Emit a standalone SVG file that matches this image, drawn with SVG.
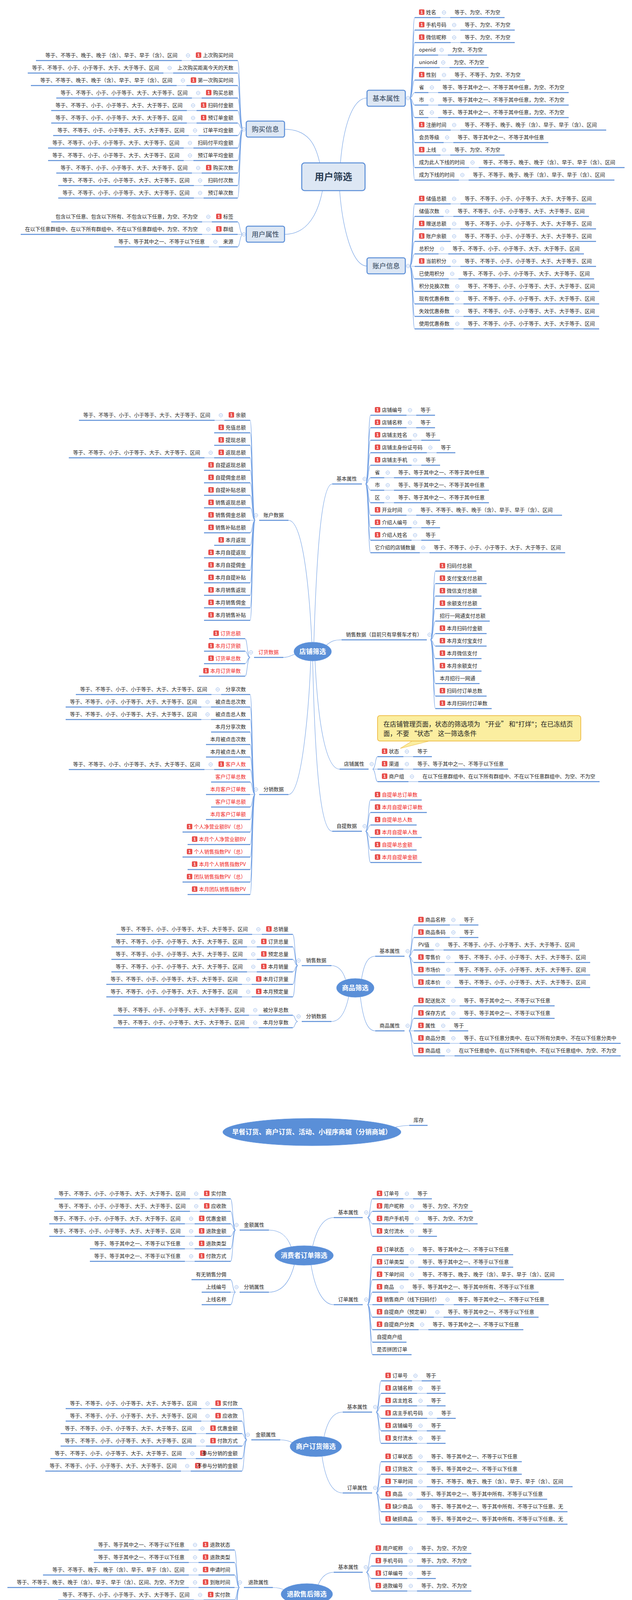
<svg xmlns="http://www.w3.org/2000/svg" width="1617" height="5203" viewBox="0 0 1617 5203">
<style>
.u{fill:none;stroke:#5b8ed7;stroke-width:2.6}
.c{fill:none;stroke:#6f9ee3;stroke-width:1.1}
text{font-family:"Noto Sans CJK SC","Noto Sans",sans-serif}
.t{font-size:13px;fill:#1f1f1f}
.e{text-anchor:end}
.r{fill:#f01e1e}
.b{font-family:"Liberation Sans",sans-serif;font-size:10.5px;font-weight:bold;fill:#fff;text-anchor:middle}
.bx{fill:#dde7f4;stroke:#5b8ed7;stroke-width:2.6}
.bt{font-size:17.5px;fill:#2c3e55;text-anchor:middle}
.ct{font-size:24px;font-weight:bold;fill:#2c3e55;text-anchor:middle}
.el{fill:#5a8fd8;stroke:#6b9be0;stroke-width:1}
.et{font-size:17px;font-weight:bold;fill:#fff;text-anchor:middle}
.er{fill:#f01e1e}
</style>
<defs>
<g id="cc"><circle r="4.5" fill="#fff" stroke="#8aaee6" stroke-width="1"/><path d="M-2.5 0H2.5" stroke="#8aaee6" stroke-width="1"/></g>
<rect id="bd" width="14" height="14" rx="2.5" fill="#e84e4a"/>
</defs>
<rect width="1617" height="5203" fill="#fff"/>

<g id="connectors">
<path class="c" d="M728 331C790 331 808 372 818 417M728 600C790 600 815 540 825 488M871 417C878 330 900 251 939 251M869 488C876 580 900 681 939 681"/>
<path class="c" d="M622 331C613 331 614 155 608 155M622 331C613 331 614 187 608 187M622 331C613 331 614 219 608 219M622 331C613 331 614 251 608 251M622 331C613 331 614 283 608 283M622 331C613 331 614 315 608 315M622 331C613 331 614 347 608 347M622 331C613 331 614 379 608 379M622 331C613 331 614 411 608 411M622 331C613 331 614 443 608 443M622 331C613 331 614 475 608 475M622 331C613 331 614 507 608 507M622 600C613 600 614 568 608 568M622 600C613 600 614 600 608 600M622 600C613 600 614 632 608 632"/>
<path class="c" d="M1048 251C1056 251 1055 45 1061 45M1048 251C1056 251 1055 77 1061 77M1048 251C1056 251 1055 109 1061 109M1048 251C1056 251 1055 141 1061 141M1048 251C1056 251 1055 173 1061 173M1048 251C1056 251 1055 205 1061 205M1048 251C1056 251 1055 237 1061 237M1048 251C1056 251 1055 269 1061 269M1048 251C1056 251 1055 301 1061 301M1048 251C1056 251 1055 333 1061 333M1048 251C1056 251 1055 365 1061 365M1048 251C1056 251 1055 397 1061 397M1048 251C1056 251 1055 429 1061 429M1048 251C1056 251 1055 461 1061 461"/>
<path class="c" d="M1048 681C1056 681 1055 522 1061 522M1048 681C1056 681 1055 554 1061 554M1048 681C1056 681 1055 586 1061 586M1048 681C1056 681 1055 618 1061 618M1048 681C1056 681 1055 650 1061 650M1048 681C1056 681 1055 682 1061 682M1048 681C1056 681 1055 714 1061 714M1048 681C1056 681 1055 746 1061 746M1048 681C1056 681 1055 778 1061 778M1048 681C1056 681 1055 810 1061 810M1048 681C1056 681 1055 842 1061 842"/>
<path class="c" d="M465 155H490M418 187H443M452 219H477M491 251H516M478 283H503M478 315H503M483 347H508M470 379H495M470 411H495M491 443H516M496 475H521M496 507H521M517 568H542M517 600H542M535 632H560M1127 45H1152M1153 77H1178M1153 109H1178M1121 141H1146M1125 173H1150M1127 205H1152M1096 237H1121M1096 269H1121M1096 301H1121M1153 333H1178M1135 365H1160M1127 397H1152M1200 429H1225M1174 461H1199M1153 522H1178M1135 554H1160M1153 586H1178M1153 618H1178M1122 650H1147M1153 682H1178M1148 714H1173M1161 746H1186M1161 778H1186M1161 810H1186M1161 842H1186"/>
<path class="c" d="M738 1332C772 1332 790 1480 798 1645M725 1683C738 1683 745 1678 754 1675M738 2034C772 2034 790 1820 795 1692M803 1645C810 1420 822 1239 850 1239M835 1652C848 1640 858 1638 874 1638M806 1692C814 1860 835 1969 869 1969M800 1692C806 1960 820 2128 850 2128"/>
<path class="c" d="M653 1332C645 1332 646 1076 640 1076M653 1332C645 1332 646 1108 640 1108M653 1332C645 1332 646 1140 640 1140M653 1332C645 1332 646 1172 640 1172M653 1332C645 1332 646 1204 640 1204M653 1332C645 1332 646 1236 640 1236M653 1332C645 1332 646 1268 640 1268M653 1332C645 1332 646 1300 640 1300M653 1332C645 1332 646 1332 640 1332M653 1332C645 1332 646 1364 640 1364M653 1332C645 1332 646 1396 640 1396M653 1332C645 1332 646 1428 640 1428M653 1332C645 1332 646 1460 640 1460M653 1332C645 1332 646 1492 640 1492M653 1332C645 1332 646 1524 640 1524M653 1332C645 1332 646 1556 640 1556M653 1332C645 1332 646 1588 640 1588"/>
<path class="c" d="M640 1683C632 1683 633 1635 627 1635M640 1683C632 1683 633 1667 627 1667M640 1683C632 1683 633 1699 627 1699M640 1683C632 1683 633 1731 627 1731"/>
<path class="c" d="M653 2034C645 2034 646 1778 640 1778M653 2034C645 2034 646 1810 640 1810M653 2034C645 2034 646 1842 640 1842M653 2034C645 2034 646 1874 640 1874M653 2034C645 2034 646 1906 640 1906M653 2034C645 2034 646 1938 640 1938M653 2034C645 2034 646 1970 640 1970M653 2034C645 2034 646 2002 640 2002M653 2034C645 2034 646 2034 640 2034M653 2034C645 2034 646 2066 640 2066M653 2034C645 2034 646 2098 640 2098M653 2034C645 2034 646 2130 640 2130M653 2034C645 2034 646 2162 640 2162M653 2034C645 2034 646 2194 640 2194M653 2034C645 2034 646 2226 640 2226M653 2034C645 2034 646 2258 640 2258M653 2034C645 2034 646 2290 640 2290"/>
<path class="c" d="M935 1239C943 1239 942 1063 948 1063M935 1239C943 1239 942 1095 948 1095M935 1239C943 1239 942 1127 948 1127M935 1239C943 1239 942 1159 948 1159M935 1239C943 1239 942 1191 948 1191M935 1239C943 1239 942 1223 948 1223M935 1239C943 1239 942 1255 948 1255M935 1239C943 1239 942 1287 948 1287M935 1239C943 1239 942 1319 948 1319M935 1239C943 1239 942 1351 948 1351M935 1239C943 1239 942 1383 948 1383M935 1239C943 1239 942 1415 948 1415"/>
<path class="c" d="M1101 1638C1109 1638 1108 1462 1114 1462M1101 1638C1109 1638 1108 1494 1114 1494M1101 1638C1109 1638 1108 1526 1114 1526M1101 1638C1109 1638 1108 1558 1114 1558M1101 1638C1109 1638 1108 1590 1114 1590M1101 1638C1109 1638 1108 1622 1114 1622M1101 1638C1109 1638 1108 1654 1114 1654M1101 1638C1109 1638 1108 1686 1114 1686M1101 1638C1109 1638 1108 1718 1114 1718M1101 1638C1109 1638 1108 1750 1114 1750M1101 1638C1109 1638 1108 1782 1114 1782M1101 1638C1109 1638 1108 1814 1114 1814"/>
<path class="c" d="M953 1969C961 1969 960 1937 966 1937M953 1969C961 1969 960 1969 966 1969M953 1969C961 1969 960 2001 966 2001M935 2128C943 2128 942 2048 948 2048M935 2128C943 2128 942 2080 948 2080M935 2128C943 2128 942 2112 948 2112M935 2128C943 2128 942 2144 948 2144M935 2128C943 2128 942 2176 948 2176M935 2128C943 2128 942 2208 948 2208"/>
<path class="c" d="M549 1076H574M523 1172H548M541 1778H566M515 1810H540M515 1842H540M523 1970H548M1040 1063H1065M1040 1095H1065M1053 1127H1078M1092 1159H1117M1053 1191H1078M983 1223H1008M983 1255H1008M983 1287H1008M1040 1319H1065M1053 1351H1078M1053 1383H1078M1074 1415H1099M1032 1937H1057M1032 1969H1057M1045 2001H1070"/>
<path class="c" d="M848 2472C868 2472 878 2488 884 2507M848 2615C870 2615 884 2590 892 2552M925 2506C931 2470 940 2448 960 2448M922 2552C929 2610 940 2639 960 2639"/>
<path class="c" d="M762 2472C754 2472 755 2392 749 2392M762 2472C754 2472 755 2424 749 2424M762 2472C754 2472 755 2456 749 2456M762 2472C754 2472 755 2488 749 2488M762 2472C754 2472 755 2520 749 2520M762 2472C754 2472 755 2552 749 2552M762 2615C754 2615 755 2599 749 2599M762 2615C754 2615 755 2631 749 2631M1046 2448C1054 2448 1053 2368 1059 2368M1046 2448C1054 2448 1053 2400 1059 2400M1046 2448C1054 2448 1053 2432 1059 2432M1046 2448C1054 2448 1053 2464 1059 2464M1046 2448C1054 2448 1053 2496 1059 2496M1046 2448C1054 2448 1053 2528 1059 2528M1046 2639C1054 2639 1053 2575 1059 2575M1046 2639C1054 2639 1053 2607 1059 2607M1046 2639C1054 2639 1053 2639 1059 2639M1046 2639C1054 2639 1053 2671 1059 2671M1046 2639C1054 2639 1053 2703 1059 2703"/>
<path class="c" d="M645 2392H670M632 2424H657M632 2456H657M632 2488H657M619 2520H644M619 2552H644M637 2599H662M637 2631H662M1151 2368H1176M1151 2400H1176M1110 2432H1135M1138 2464H1163M1138 2496H1163M1138 2528H1163M1151 2575H1176M1151 2607H1176M1125 2639H1150M1151 2671H1176M1138 2703H1163"/>
<path class="c" d="M1010 2886C1025 2882 1033 2881 1047 2881"/>
<path class="c" d="M688 3149C718 3149 735 3165 745 3192M688 3308C722 3308 742 3280 753 3238M800 3190C810 3148 826 3117 854 3117M796 3239C806 3300 826 3340 854 3340"/>
<path class="c" d="M603 3149C595 3149 596 3069 590 3069M603 3149C595 3149 596 3101 590 3101M603 3149C595 3149 596 3133 590 3133M603 3149C595 3149 596 3165 590 3165M603 3149C595 3149 596 3197 590 3197M603 3149C595 3149 596 3229 590 3229M603 3308C595 3308 596 3276 590 3276M603 3308C595 3308 596 3308 590 3308M603 3308C595 3308 596 3340 590 3340M940 3117C948 3117 947 3069 953 3069M940 3117C948 3117 947 3101 953 3101M940 3117C948 3117 947 3133 953 3133M940 3117C948 3117 947 3165 953 3165M940 3340C948 3340 947 3212 953 3212M940 3340C948 3340 947 3244 953 3244M940 3340C948 3340 947 3276 953 3276M940 3340C948 3340 947 3308 953 3308M940 3340C948 3340 947 3340 953 3340M940 3340C948 3340 947 3372 953 3372M940 3340C948 3340 947 3404 953 3404M940 3340C948 3340 947 3436 953 3436M940 3340C948 3340 947 3468 953 3468"/>
<path class="c" d="M486 3069H511M486 3101H511M473 3133H498M473 3165H498M473 3197H498M473 3229H498M1032 3069H1057M1045 3101H1070M1058 3133H1083M1045 3165H1070M1045 3212H1070M1045 3244H1070M1045 3276H1070M1019 3308H1044M1136 3340H1161M1110 3372H1135M1071 3404H1096"/>
<path class="c" d="M717 3686C730 3686 738 3688 748 3693M829 3678C838 3638 852 3615 877 3615M824 3729C833 3790 850 3822 877 3822"/>
<path class="c" d="M632 3686C624 3686 625 3606 619 3606M632 3686C624 3686 625 3638 619 3638M632 3686C624 3686 625 3670 619 3670M632 3686C624 3686 625 3702 619 3702M632 3686C624 3686 625 3734 619 3734M632 3686C624 3686 625 3766 619 3766M962 3615C970 3615 969 3535 975 3535M962 3615C970 3615 969 3567 975 3567M962 3615C970 3615 969 3599 975 3599M962 3615C970 3615 969 3631 975 3631M962 3615C970 3615 969 3663 975 3663M962 3615C970 3615 969 3695 975 3695M962 3822C970 3822 969 3742 975 3742M962 3822C970 3822 969 3774 975 3774M962 3822C970 3822 969 3806 975 3806M962 3822C970 3822 969 3838 975 3838M962 3822C970 3822 969 3870 975 3870M962 3822C970 3822 969 3902 975 3902"/>
<path class="c" d="M515 3606H540M515 3638H540M502 3670H527M502 3702H527M476 3734H501M463 3766H488M1054 3535H1079M1067 3567H1092M1067 3599H1092M1093 3631H1118M1067 3663H1092M1067 3695H1092M1067 3742H1092M1067 3774H1092M1067 3806H1092M1041 3838H1066M1067 3870H1092M1067 3902H1092"/>
<path class="c" d="M698 4064C710 4064 718 4066 727 4070M814 4057C822 4038 835 4025 854 4025M809 4107C815 4146 830 4168 854 4168"/>
<path class="c" d="M613 4064C605 4064 606 3968 600 3968M613 4064C605 4064 606 4000 600 4000M613 4064C605 4064 606 4032 600 4032M613 4064C605 4064 606 4064 600 4064M613 4064C605 4064 606 4096 600 4096M613 4064C605 4064 606 4128 600 4128M613 4064C605 4064 606 4160 600 4160M937 4025C945 4025 944 3977 950 3977M937 4025C945 4025 944 4009 950 4009M937 4025C945 4025 944 4041 950 4041M937 4025C945 4025 944 4073 950 4073M937 4168C945 4168 944 4120 950 4120M937 4168C945 4168 944 4152 950 4152M937 4168C945 4168 944 4184 950 4184M937 4168C945 4168 944 4216 950 4216"/>
<path class="c" d="M483 3968H508M483 4000H508M483 4032H508M483 4064H508M496 4096H521M496 4128H521M483 4160H508M1042 3977H1067M1042 4009H1067M1042 4041H1067M1042 4073H1067M1042 4120H1067M1024 4152H1049M1016 4184H1041M1042 4216H1067"/>
<path class="c" d="M806 4445C815 4430 826 4420 842 4420M800 4492C808 4525 822 4546 841 4546M927 4420C935 4420 934 4339 940 4339M927 4420C935 4420 934 4371 940 4371M927 4420C935 4420 934 4403 940 4403M927 4420C935 4420 934 4435 940 4435M927 4420C935 4420 934 4467 940 4467M927 4420C935 4420 934 4499 940 4499"/>
<path class="c" d="M744 4682C758 4682 768 4690 775 4700M744 4794C766 4794 780 4775 787 4748M852 4701C863 4694 873 4690 889 4690M842 4747C852 4773 868 4785 889 4785M684 4682C676 4682 677 4634 671 4634M684 4682C676 4682 677 4666 671 4666M684 4682C676 4682 677 4698 671 4698M684 4682C676 4682 677 4730 671 4730M672 4794C664 4794 665 4778 659 4778M672 4794C664 4794 665 4810 659 4810M973 4690C981 4690 980 4658 986 4658M973 4690C981 4690 980 4690 986 4690M973 4690C981 4690 980 4722 986 4722M973 4785C981 4785 980 4769 986 4769M973 4785C981 4785 980 4801 986 4801"/>
<path class="c" d="M688 5052C702 5052 712 5054 720 5061M688 5130C712 5130 728 5118 738 5099M806 5052C815 5036 826 5026 841 5026M795 5101C804 5130 820 5153 841 5153M586 5052C578 5052 579 5036 573 5036M586 5052C578 5052 579 5068 573 5068M586 5130C578 5130 579 5114 573 5114M586 5130C578 5130 579 5146 573 5146M900 5026C908 5026 907 4978 913 4978M900 5026C908 5026 907 5010 913 5010M900 5026C908 5026 907 5042 913 5042M900 5026C908 5026 907 5074 913 5074M927 5153C935 5153 934 5121 940 5121M927 5153C935 5153 934 5153 940 5153M927 5153C935 5153 934 5185 940 5185"/>
</g>

<!-- Section 1: 用户筛选 -->
<g id="root1"><rect class="bx" x="772" y="417" width="162" height="71" rx="7"/><text class="ct" x="853" y="461">用户筛选</text></g>
<g id="buy"><rect class="bx" x="630" y="310" width="98" height="41" rx="5"/><text class="bt" x="679" y="337">购买信息</text><use href="#cc" x="624" y="331"/></g>
<g id="uattr"><rect class="bx" x="630" y="579" width="98" height="41" rx="5"/><text class="bt" x="679" y="606">用户属性</text><use href="#cc" x="624" y="600"/></g>
<g id="basic1"><rect class="bx" x="939" y="231" width="98" height="41" rx="5"/><text class="bt" x="988" y="258">基本属性</text><use href="#cc" x="1044" y="251"/></g>
<g id="acct1"><rect class="bx" x="939" y="660" width="98" height="41" rx="5"/><text class="bt" x="988" y="687">账户信息</text><use href="#cc" x="1044" y="681"/></g>

<g id="a1"><path class="u" d="M490 155H608"/><use href="#cc" x="481" y="142"/><use href="#bd" x="501" y="134"/><text class="b" x="508" y="145">1</text><text class="t e" x="597" y="146">上次购买时间</text></g>
<g id="a1v"><path class="u" d="M92 155H465"/><text class="t e" x="454" y="146">等于、不等于、晚于、晚于（含）、早于、早于（含）、区间</text></g>
<g id="a2"><path class="u" d="M443 187H608"/><use href="#cc" x="434" y="174"/><text class="t e" x="597" y="178">上次购买距离今天的天数</text></g>
<g id="a2v"><path class="u" d="M71 187H418"/><text class="t e" x="407" y="178">等于、不等于、小于、小于等于、大于、大于等于、区间</text></g>
<g id="a3"><path class="u" d="M477 219H608"/><use href="#cc" x="468" y="206"/><use href="#bd" x="488" y="198"/><text class="b" x="495" y="209">1</text><text class="t e" x="597" y="210">第一次购买时间</text></g>
<g id="a3v"><path class="u" d="M79 219H452"/><text class="t e" x="441" y="210">等于、不等于、晚于、晚于（含）、早于、早于（含）、区间</text></g>
<g id="a4"><path class="u" d="M516 251H608"/><use href="#cc" x="507" y="238"/><use href="#bd" x="527" y="230"/><text class="b" x="534" y="241">1</text><text class="t e" x="597" y="242">购买总额</text></g>
<g id="a4v"><path class="u" d="M144 251H491"/><text class="t e" x="480" y="242">等于、不等于、小于、小于等于、大于、大于等于、区间</text></g>
<g id="a5"><path class="u" d="M503 283H608"/><use href="#cc" x="494" y="270"/><use href="#bd" x="514" y="262"/><text class="b" x="521" y="273">1</text><text class="t e" x="597" y="274">扫码付金额</text></g>
<g id="a5v"><path class="u" d="M131 283H478"/><text class="t e" x="467" y="274">等于、不等于、小于、小于等于、大于、大于等于、区间</text></g>
<g id="a6"><path class="u" d="M503 315H608"/><use href="#cc" x="494" y="302"/><use href="#bd" x="514" y="294"/><text class="b" x="521" y="305">1</text><text class="t e" x="597" y="306">预订单金额</text></g>
<g id="a6v"><path class="u" d="M131 315H478"/><text class="t e" x="467" y="306">等于、不等于、小于、小于等于、大于、大于等于、区间</text></g>
<g id="a7"><path class="u" d="M508 347H608"/><use href="#cc" x="499" y="334"/><text class="t e" x="597" y="338">订单平均金额</text></g>
<g id="a7v"><path class="u" d="M136 347H483"/><text class="t e" x="472" y="338">等于、不等于、小于、小于等于、大于、大于等于、区间</text></g>
<g id="a8"><path class="u" d="M495 379H608"/><use href="#cc" x="486" y="366"/><text class="t e" x="597" y="370">扫码付平均金额</text></g>
<g id="a8v"><path class="u" d="M123 379H470"/><text class="t e" x="459" y="370">等于、不等于、小于、小于等于、大于、大于等于、区间</text></g>
<g id="a9"><path class="u" d="M495 411H608"/><use href="#cc" x="486" y="398"/><text class="t e" x="597" y="402">预订单平均金额</text></g>
<g id="a9v"><path class="u" d="M123 411H470"/><text class="t e" x="459" y="402">等于、不等于、小于、小于等于、大于、大于等于、区间</text></g>
<g id="a10"><path class="u" d="M516 443H608"/><use href="#cc" x="507" y="430"/><use href="#bd" x="527" y="422"/><text class="b" x="534" y="433">1</text><text class="t e" x="597" y="434">购买次数</text></g>
<g id="a10v"><path class="u" d="M144 443H491"/><text class="t e" x="480" y="434">等于、不等于、小于、小于等于、大于、大于等于、区间</text></g>
<g id="a11"><path class="u" d="M521 475H608"/><use href="#cc" x="512" y="462"/><text class="t e" x="597" y="466">扫码付次数</text></g>
<g id="a11v"><path class="u" d="M149 475H496"/><text class="t e" x="485" y="466">等于、不等于、小于、小于等于、大于、大于等于、区间</text></g>
<g id="a12"><path class="u" d="M521 507H608"/><use href="#cc" x="512" y="494"/><text class="t e" x="597" y="498">预订单次数</text></g>
<g id="a12v"><path class="u" d="M149 507H496"/><text class="t e" x="485" y="498">等于、不等于、小于、小于等于、大于、大于等于、区间</text></g>
<g id="b1"><path class="u" d="M542 568H608"/><use href="#cc" x="533" y="555"/><use href="#bd" x="553" y="547"/><text class="b" x="560" y="558">1</text><text class="t e" x="597" y="559">标签</text></g>
<g id="b1v"><path class="u" d="M131 568H517"/><text class="t e" x="506" y="559">包含以下任意、包含以下所有、不包含以下任意，为空、不为空</text></g>
<g id="b2"><path class="u" d="M542 600H608"/><use href="#cc" x="533" y="587"/><use href="#bd" x="553" y="579"/><text class="b" x="560" y="590">1</text><text class="t e" x="597" y="591">群组</text></g>
<g id="b2v"><path class="u" d="M53 600H517"/><text class="t e" x="506" y="591">在以下任意群组中、在以下所有群组中、不在以下任意群组中、为空、不为空</text></g>
<g id="b3"><path class="u" d="M560 632H608"/><use href="#cc" x="551" y="619"/><text class="t e" x="597" y="623">来源</text></g>
<g id="b3v"><path class="u" d="M292 632H535"/><text class="t e" x="524" y="623">等于、等于其中之一、不等于以下任意</text></g>

<g id="c1"><path class="u" d="M1061 45H1127"/><use href="#cc" x="1136" y="32"/><use href="#bd" x="1072" y="24"/><text class="b" x="1079" y="35">1</text><text class="t" x="1090" y="36">姓名</text></g>
<g id="c1v"><path class="u" d="M1152 45H1291"/><text class="t" x="1163" y="36">等于、为空、不为空</text></g>
<g id="c2"><path class="u" d="M1061 77H1153"/><use href="#cc" x="1162" y="64"/><use href="#bd" x="1072" y="56"/><text class="b" x="1079" y="67">1</text><text class="t" x="1090" y="68">手机号码</text></g>
<g id="c2v"><path class="u" d="M1178 77H1317"/><text class="t" x="1189" y="68">等于、为空、不为空</text></g>
<g id="c3"><path class="u" d="M1061 109H1153"/><use href="#cc" x="1162" y="96"/><use href="#bd" x="1072" y="88"/><text class="b" x="1079" y="99">1</text><text class="t" x="1090" y="100">微信昵称</text></g>
<g id="c3v"><path class="u" d="M1178 109H1317"/><text class="t" x="1189" y="100">等于、为空、不为空</text></g>
<g id="c4"><path class="u" d="M1061 141H1121"/><use href="#cc" x="1130" y="128"/><text class="t" x="1072" y="132">openid</text></g>
<g id="c4v"><path class="u" d="M1146 141H1246"/><text class="t" x="1157" y="132">为空、不为空</text></g>
<g id="c5"><path class="u" d="M1061 173H1125"/><use href="#cc" x="1134" y="160"/><text class="t" x="1072" y="164">unionid</text></g>
<g id="c5v"><path class="u" d="M1150 173H1250"/><text class="t" x="1161" y="164">为空、不为空</text></g>
<g id="c6"><path class="u" d="M1061 205H1127"/><use href="#cc" x="1136" y="192"/><use href="#bd" x="1072" y="184"/><text class="b" x="1079" y="195">1</text><text class="t" x="1090" y="196">性别</text></g>
<g id="c6v"><path class="u" d="M1152 205H1343"/><text class="t" x="1163" y="196">等于、不等于、为空、不为空</text></g>
<g id="c7"><path class="u" d="M1061 237H1096"/><use href="#cc" x="1105" y="224"/><text class="t" x="1072" y="228">省</text></g>
<g id="c7v"><path class="u" d="M1121 237H1455"/><text class="t" x="1132" y="228">等于、等于其中之一、不等于其中任意，为空、不为空</text></g>
<g id="c8"><path class="u" d="M1061 269H1096"/><use href="#cc" x="1105" y="256"/><text class="t" x="1072" y="260">市</text></g>
<g id="c8v"><path class="u" d="M1121 269H1455"/><text class="t" x="1132" y="260">等于、等于其中之一、不等于其中任意，为空、不为空</text></g>
<g id="c9"><path class="u" d="M1061 301H1096"/><use href="#cc" x="1105" y="288"/><text class="t" x="1072" y="292">区</text></g>
<g id="c9v"><path class="u" d="M1121 301H1455"/><text class="t" x="1132" y="292">等于、等于其中之一、不等于其中任意，为空、不为空</text></g>
<g id="c10"><path class="u" d="M1061 333H1153"/><use href="#cc" x="1162" y="320"/><use href="#bd" x="1072" y="312"/><text class="b" x="1079" y="323">1</text><text class="t" x="1090" y="324">注册时间</text></g>
<g id="c10v"><path class="u" d="M1178 333H1551"/><text class="t" x="1189" y="324">等于、不等于、晚于、晚于（含）、早于、早于（含）、区间</text></g>
<g id="c11"><path class="u" d="M1061 365H1135"/><use href="#cc" x="1144" y="352"/><text class="t" x="1072" y="356">会员等级</text></g>
<g id="c11v"><path class="u" d="M1160 365H1403"/><text class="t" x="1171" y="356">等于、等于其中之一、不等于其中任意</text></g>
<g id="c12"><path class="u" d="M1061 397H1127"/><use href="#cc" x="1136" y="384"/><use href="#bd" x="1072" y="376"/><text class="b" x="1079" y="387">1</text><text class="t" x="1090" y="388">上线</text></g>
<g id="c12v"><path class="u" d="M1152 397H1291"/><text class="t" x="1163" y="388">等于、为空、不为空</text></g>
<g id="c13"><path class="u" d="M1061 429H1200"/><use href="#cc" x="1209" y="416"/><text class="t" x="1072" y="420">成为此人下线的时间</text></g>
<g id="c13v"><path class="u" d="M1225 429H1598"/><text class="t" x="1236" y="420">等于、不等于、晚于、晚于（含）、早于、早于（含）、区间</text></g>
<g id="c14"><path class="u" d="M1061 461H1174"/><use href="#cc" x="1183" y="448"/><text class="t" x="1072" y="452">成为下线的时间</text></g>
<g id="c14v"><path class="u" d="M1199 461H1572"/><text class="t" x="1210" y="452">等于、不等于、晚于、晚于（含）、早于、早于（含）、区间</text></g>

<g id="d1"><path class="u" d="M1061 522H1153"/><use href="#cc" x="1162" y="509"/><use href="#bd" x="1072" y="501"/><text class="b" x="1079" y="512">1</text><text class="t" x="1090" y="513">储值总额</text></g>
<g id="d1v"><path class="u" d="M1178 522H1525"/><text class="t" x="1189" y="513">等于、不等于、小于、小于等于、大于、大于等于、区间</text></g>
<g id="d2"><path class="u" d="M1061 554H1135"/><use href="#cc" x="1144" y="541"/><text class="t" x="1072" y="545">储值次数</text></g>
<g id="d2v"><path class="u" d="M1160 554H1507"/><text class="t" x="1171" y="545">等于、不等于、小于、小于等于、大于、大于等于、区间</text></g>
<g id="d3"><path class="u" d="M1061 586H1153"/><use href="#cc" x="1162" y="573"/><use href="#bd" x="1072" y="565"/><text class="b" x="1079" y="576">1</text><text class="t" x="1090" y="577">赠送总额</text></g>
<g id="d3v"><path class="u" d="M1178 586H1525"/><text class="t" x="1189" y="577">等于、不等于、小于、小于等于、大于、大于等于、区间</text></g>
<g id="d4"><path class="u" d="M1061 618H1153"/><use href="#cc" x="1162" y="605"/><use href="#bd" x="1072" y="597"/><text class="b" x="1079" y="608">1</text><text class="t" x="1090" y="609">账户余额</text></g>
<g id="d4v"><path class="u" d="M1178 618H1525"/><text class="t" x="1189" y="609">等于、不等于、小于、小于等于、大于、大于等于、区间</text></g>
<g id="d5"><path class="u" d="M1061 650H1122"/><use href="#cc" x="1131" y="637"/><text class="t" x="1072" y="641">总积分</text></g>
<g id="d5v"><path class="u" d="M1147 650H1494"/><text class="t" x="1158" y="641">等于、不等于、小于、小于等于、大于、大于等于、区间</text></g>
<g id="d6"><path class="u" d="M1061 682H1153"/><use href="#cc" x="1162" y="669"/><use href="#bd" x="1072" y="661"/><text class="b" x="1079" y="672">1</text><text class="t" x="1090" y="673">当前积分</text></g>
<g id="d6v"><path class="u" d="M1178 682H1525"/><text class="t" x="1189" y="673">等于、不等于、小于、小于等于、大于、大于等于、区间</text></g>
<g id="d7"><path class="u" d="M1061 714H1148"/><use href="#cc" x="1157" y="701"/><text class="t" x="1072" y="705">已使用积分</text></g>
<g id="d7v"><path class="u" d="M1173 714H1520"/><text class="t" x="1184" y="705">等于、不等于、小于、小于等于、大于、大于等于、区间</text></g>
<g id="d8"><path class="u" d="M1061 746H1161"/><use href="#cc" x="1170" y="733"/><text class="t" x="1072" y="737">积分兑换次数</text></g>
<g id="d8v"><path class="u" d="M1186 746H1533"/><text class="t" x="1197" y="737">等于、不等于、小于、小于等于、大于、大于等于、区间</text></g>
<g id="d9"><path class="u" d="M1061 778H1161"/><use href="#cc" x="1170" y="765"/><text class="t" x="1072" y="769">现有优惠券数</text></g>
<g id="d9v"><path class="u" d="M1186 778H1533"/><text class="t" x="1197" y="769">等于、不等于、小于、小于等于、大于、大于等于、区间</text></g>
<g id="d10"><path class="u" d="M1061 810H1161"/><use href="#cc" x="1170" y="797"/><text class="t" x="1072" y="801">失效优惠券数</text></g>
<g id="d10v"><path class="u" d="M1186 810H1533"/><text class="t" x="1197" y="801">等于、不等于、小于、小于等于、大于、大于等于、区间</text></g>
<g id="d11"><path class="u" d="M1061 842H1161"/><use href="#cc" x="1170" y="829"/><text class="t" x="1072" y="833">使用优惠券数</text></g>
<g id="d11v"><path class="u" d="M1186 842H1533"/><text class="t" x="1197" y="833">等于、不等于、小于、小于等于、大于、大于等于、区间</text></g>

<!-- Section 2: 店铺筛选 -->
<g id="root2"><ellipse class="el" cx="800" cy="1668" rx="48" ry="24"/><text class="et" x="800" y="1674">店铺筛选</text></g>
<g id="s2a"><path class="u" d="M663 1332H738"/><use href="#cc" x="655" y="1319"/><text class="t" x="674" y="1323">账户数据</text></g>
<g id="s2b"><path class="u" d="M650 1683H725"/><use href="#cc" x="642" y="1670"/><text class="t r" x="661" y="1674">订货数据</text></g>
<g id="s2c"><path class="u" d="M663 2034H738"/><use href="#cc" x="655" y="2021"/><text class="t" x="674" y="2025">分销数据</text></g>
<g id="s2d"><path class="u" d="M850 1239H926"/><use href="#cc" x="933" y="1226"/><text class="t" x="861" y="1230">基本属性</text></g>
<g id="s2e"><path class="u" d="M874 1638H1092"/><use href="#cc" x="1099" y="1625"/><text class="t" x="885" y="1629">销售数据（目前只有早餐车才有）</text></g>
<g id="s2f"><path class="u" d="M869 1969H943"/><use href="#cc" x="951" y="1956"/><text class="t" x="880" y="1960">店铺属性</text></g>
<g id="s2g"><path class="u" d="M850 2128H926"/><use href="#cc" x="933" y="2115"/><text class="t" x="861" y="2119">自提数据</text></g>

<g id="e1"><path class="u" d="M574 1076H640"/><use href="#cc" x="565" y="1063"/><use href="#bd" x="585" y="1055"/><text class="b" x="592" y="1066">1</text><text class="t e" x="629" y="1067">余额</text></g>
<g id="e1v"><path class="u" d="M202 1076H549"/><text class="t e" x="538" y="1067">等于、不等于、小于、小于等于、大于、大于等于、区间</text></g>
<g id="e2"><path class="u" d="M548 1108H640"/><use href="#bd" x="559" y="1087"/><text class="b" x="566" y="1098">1</text><text class="t e" x="629" y="1099">充值总额</text></g>
<g id="e3"><path class="u" d="M548 1140H640"/><use href="#bd" x="559" y="1119"/><text class="b" x="566" y="1130">1</text><text class="t e" x="629" y="1131">提现总额</text></g>
<g id="e4"><path class="u" d="M548 1172H640"/><use href="#cc" x="539" y="1159"/><use href="#bd" x="559" y="1151"/><text class="b" x="566" y="1162">1</text><text class="t e" x="629" y="1163">返现总额</text></g>
<g id="e4v"><path class="u" d="M176 1172H523"/><text class="t e" x="512" y="1163">等于、不等于、小于、小于等于、大于、大于等于、区间</text></g>
<g id="e5"><path class="u" d="M522 1204H640"/><use href="#bd" x="533" y="1183"/><text class="b" x="540" y="1194">1</text><text class="t e" x="629" y="1195">自提返现总额</text></g>
<g id="e6"><path class="u" d="M522 1236H640"/><use href="#bd" x="533" y="1215"/><text class="b" x="540" y="1226">1</text><text class="t e" x="629" y="1227">自提佣金总额</text></g>
<g id="e7"><path class="u" d="M522 1268H640"/><use href="#bd" x="533" y="1247"/><text class="b" x="540" y="1258">1</text><text class="t e" x="629" y="1259">自提补贴总额</text></g>
<g id="e8"><path class="u" d="M522 1300H640"/><use href="#bd" x="533" y="1279"/><text class="b" x="540" y="1290">1</text><text class="t e" x="629" y="1291">销售返现总额</text></g>
<g id="e9"><path class="u" d="M522 1332H640"/><use href="#bd" x="533" y="1311"/><text class="b" x="540" y="1322">1</text><text class="t e" x="629" y="1323">销售佣金总额</text></g>
<g id="e10"><path class="u" d="M522 1364H640"/><use href="#bd" x="533" y="1343"/><text class="b" x="540" y="1354">1</text><text class="t e" x="629" y="1355">销售补贴总额</text></g>
<g id="e11"><path class="u" d="M548 1396H640"/><use href="#bd" x="559" y="1375"/><text class="b" x="566" y="1386">1</text><text class="t e" x="629" y="1387">本月返现</text></g>
<g id="e12"><path class="u" d="M522 1428H640"/><use href="#bd" x="533" y="1407"/><text class="b" x="540" y="1418">1</text><text class="t e" x="629" y="1419">本月自提返现</text></g>
<g id="e13"><path class="u" d="M522 1460H640"/><use href="#bd" x="533" y="1439"/><text class="b" x="540" y="1450">1</text><text class="t e" x="629" y="1451">本月自提佣金</text></g>
<g id="e14"><path class="u" d="M522 1492H640"/><use href="#bd" x="533" y="1471"/><text class="b" x="540" y="1482">1</text><text class="t e" x="629" y="1483">本月自提补贴</text></g>
<g id="e15"><path class="u" d="M522 1524H640"/><use href="#bd" x="533" y="1503"/><text class="b" x="540" y="1514">1</text><text class="t e" x="629" y="1515">本月销售返现</text></g>
<g id="e16"><path class="u" d="M522 1556H640"/><use href="#bd" x="533" y="1535"/><text class="b" x="540" y="1546">1</text><text class="t e" x="629" y="1547">本月销售佣金</text></g>
<g id="e17"><path class="u" d="M522 1588H640"/><use href="#bd" x="533" y="1567"/><text class="b" x="540" y="1578">1</text><text class="t e" x="629" y="1579">本月销售补贴</text></g>

<g id="f1"><path class="u" d="M535 1635H627"/><use href="#bd" x="546" y="1614"/><text class="b" x="553" y="1625">1</text><text class="t e r" x="616" y="1626">订货总额</text></g>
<g id="f2"><path class="u" d="M522 1667H627"/><use href="#bd" x="533" y="1646"/><text class="b" x="540" y="1657">1</text><text class="t e r" x="616" y="1658">本月订货额</text></g>
<g id="f3"><path class="u" d="M522 1699H627"/><use href="#bd" x="533" y="1678"/><text class="b" x="540" y="1689">1</text><text class="t e r" x="616" y="1690">订货单总数</text></g>
<g id="f4"><path class="u" d="M509 1731H627"/><use href="#bd" x="520" y="1710"/><text class="b" x="527" y="1721">1</text><text class="t e r" x="616" y="1722">本月订货单数</text></g>

<g id="g1"><path class="u" d="M566 1778H640"/><use href="#cc" x="557" y="1765"/><text class="t e" x="629" y="1769">分享次数</text></g>
<g id="g1v"><path class="u" d="M194 1778H541"/><text class="t e" x="530" y="1769">等于、不等于、小于、小于等于、大于、大于等于、区间</text></g>
<g id="g2"><path class="u" d="M540 1810H640"/><use href="#cc" x="531" y="1797"/><text class="t e" x="629" y="1801">被点击总次数</text></g>
<g id="g2v"><path class="u" d="M168 1810H515"/><text class="t e" x="504" y="1801">等于、不等于、小于、小于等于、大于、大于等于、区间</text></g>
<g id="g3"><path class="u" d="M540 1842H640"/><use href="#cc" x="531" y="1829"/><text class="t e" x="629" y="1833">被点击总人数</text></g>
<g id="g3v"><path class="u" d="M168 1842H515"/><text class="t e" x="504" y="1833">等于、不等于、小于、小于等于、大于、大于等于、区间</text></g>
<g id="g4"><path class="u" d="M540 1874H640"/><text class="t e" x="629" y="1865">本月分享次数</text></g>
<g id="g5"><path class="u" d="M527 1906H640"/><text class="t e" x="629" y="1897">本月被点击次数</text></g>
<g id="g6"><path class="u" d="M527 1938H640"/><text class="t e" x="629" y="1929">本月被点击人数</text></g>
<g id="g7"><path class="u" d="M548 1970H640"/><use href="#cc" x="539" y="1957"/><use href="#bd" x="559" y="1949"/><text class="b" x="566" y="1960">1</text><text class="t e r" x="629" y="1961">客户人数</text></g>
<g id="g7v"><path class="u" d="M176 1970H523"/><text class="t e" x="512" y="1961">等于、不等于、小于、小于等于、大于、大于等于、区间</text></g>
<g id="g8"><path class="u" d="M540 2002H640"/><text class="t e r" x="629" y="1993">客户订单总数</text></g>
<g id="g9"><path class="u" d="M527 2034H640"/><text class="t e r" x="629" y="2025">本月客户订单数</text></g>
<g id="g10"><path class="u" d="M540 2066H640"/><text class="t e r" x="629" y="2057">客户订单总额</text></g>
<g id="g11"><path class="u" d="M527 2098H640"/><text class="t e r" x="629" y="2089">本月客户订单额</text></g>
<g id="g12"><path class="u" d="M467 2130H640"/><use href="#bd" x="478" y="2109"/><text class="b" x="485" y="2120">1</text><text class="t e r" x="629" y="2121">个人净营业额BV（总）</text></g>
<g id="g13"><path class="u" d="M480 2162H640"/><use href="#bd" x="491" y="2141"/><text class="b" x="498" y="2152">1</text><text class="t e r" x="629" y="2153">本月个人净营业额BV</text></g>
<g id="g14"><path class="u" d="M467 2194H640"/><use href="#bd" x="478" y="2173"/><text class="b" x="485" y="2184">1</text><text class="t e r" x="629" y="2185">个人销售指数PV（总）</text></g>
<g id="g15"><path class="u" d="M480 2226H640"/><use href="#bd" x="491" y="2205"/><text class="b" x="498" y="2216">1</text><text class="t e r" x="629" y="2217">本月个人销售指数PV</text></g>
<g id="g16"><path class="u" d="M467 2258H640"/><use href="#bd" x="478" y="2237"/><text class="b" x="485" y="2248">1</text><text class="t e r" x="629" y="2249">团队销售指数PV（总）</text></g>
<g id="g17"><path class="u" d="M480 2290H640"/><use href="#bd" x="491" y="2269"/><text class="b" x="498" y="2280">1</text><text class="t e r" x="629" y="2281">本月团队销售指数PV</text></g>

<g id="h1"><path class="u" d="M948 1063H1040"/><use href="#cc" x="1049" y="1050"/><use href="#bd" x="959" y="1042"/><text class="b" x="966" y="1053">1</text><text class="t" x="977" y="1054">店铺编号</text></g>
<g id="h1v"><path class="u" d="M1065 1063H1113"/><text class="t" x="1076" y="1054">等于</text></g>
<g id="h2"><path class="u" d="M948 1095H1040"/><use href="#cc" x="1049" y="1082"/><use href="#bd" x="959" y="1074"/><text class="b" x="966" y="1085">1</text><text class="t" x="977" y="1086">店铺名称</text></g>
<g id="h2v"><path class="u" d="M1065 1095H1113"/><text class="t" x="1076" y="1086">等于</text></g>
<g id="h3"><path class="u" d="M948 1127H1053"/><use href="#cc" x="1062" y="1114"/><use href="#bd" x="959" y="1106"/><text class="b" x="966" y="1117">1</text><text class="t" x="977" y="1118">店铺主姓名</text></g>
<g id="h3v"><path class="u" d="M1078 1127H1126"/><text class="t" x="1089" y="1118">等于</text></g>
<g id="h4"><path class="u" d="M948 1159H1092"/><use href="#cc" x="1101" y="1146"/><use href="#bd" x="959" y="1138"/><text class="b" x="966" y="1149">1</text><text class="t" x="977" y="1150">店铺主身份证号码</text></g>
<g id="h4v"><path class="u" d="M1117 1159H1165"/><text class="t" x="1128" y="1150">等于</text></g>
<g id="h5"><path class="u" d="M948 1191H1053"/><use href="#cc" x="1062" y="1178"/><use href="#bd" x="959" y="1170"/><text class="b" x="966" y="1181">1</text><text class="t" x="977" y="1182">店铺主手机</text></g>
<g id="h5v"><path class="u" d="M1078 1191H1126"/><text class="t" x="1089" y="1182">等于</text></g>
<g id="h6"><path class="u" d="M948 1223H983"/><use href="#cc" x="992" y="1210"/><text class="t" x="959" y="1214">省</text></g>
<g id="h6v"><path class="u" d="M1008 1223H1251"/><text class="t" x="1019" y="1214">等于、等于其中之一、不等于其中任意</text></g>
<g id="h7"><path class="u" d="M948 1255H983"/><use href="#cc" x="992" y="1242"/><text class="t" x="959" y="1246">市</text></g>
<g id="h7v"><path class="u" d="M1008 1255H1251"/><text class="t" x="1019" y="1246">等于、等于其中之一、不等于其中任意</text></g>
<g id="h8"><path class="u" d="M948 1287H983"/><use href="#cc" x="992" y="1274"/><text class="t" x="959" y="1278">区</text></g>
<g id="h8v"><path class="u" d="M1008 1287H1251"/><text class="t" x="1019" y="1278">等于、等于其中之一、不等于其中任意</text></g>
<g id="h9"><path class="u" d="M948 1319H1040"/><use href="#cc" x="1049" y="1306"/><use href="#bd" x="959" y="1298"/><text class="b" x="966" y="1309">1</text><text class="t" x="977" y="1310">开业时间</text></g>
<g id="h9v"><path class="u" d="M1065 1319H1438"/><text class="t" x="1076" y="1310">等于、不等于、晚于、晚于（含）、早于、早于（含）、区间</text></g>
<g id="h10"><path class="u" d="M948 1351H1053"/><use href="#cc" x="1062" y="1338"/><use href="#bd" x="959" y="1330"/><text class="b" x="966" y="1341">1</text><text class="t" x="977" y="1342">介绍人编号</text></g>
<g id="h10v"><path class="u" d="M1078 1351H1126"/><text class="t" x="1089" y="1342">等于</text></g>
<g id="h11"><path class="u" d="M948 1383H1053"/><use href="#cc" x="1062" y="1370"/><use href="#bd" x="959" y="1362"/><text class="b" x="966" y="1373">1</text><text class="t" x="977" y="1374">介绍人姓名</text></g>
<g id="h11v"><path class="u" d="M1078 1383H1126"/><text class="t" x="1089" y="1374">等于</text></g>
<g id="h12"><path class="u" d="M948 1415H1074"/><use href="#cc" x="1083" y="1402"/><text class="t" x="959" y="1406">它介绍的店铺数量</text></g>
<g id="h12v"><path class="u" d="M1099 1415H1446"/><text class="t" x="1110" y="1406">等于、不等于、小于、小于等于、大于、大于等于、区间</text></g>

<g id="i1"><path class="u" d="M1114 1462H1219"/><use href="#bd" x="1125" y="1441"/><text class="b" x="1132" y="1452">1</text><text class="t" x="1143" y="1453">扫码付总额</text></g>
<g id="i2"><path class="u" d="M1114 1494H1245"/><use href="#bd" x="1125" y="1473"/><text class="b" x="1132" y="1484">1</text><text class="t" x="1143" y="1485">支付宝支付总额</text></g>
<g id="i3"><path class="u" d="M1114 1526H1232"/><use href="#bd" x="1125" y="1505"/><text class="b" x="1132" y="1516">1</text><text class="t" x="1143" y="1517">微信支付总额</text></g>
<g id="i4"><path class="u" d="M1114 1558H1232"/><use href="#bd" x="1125" y="1537"/><text class="b" x="1132" y="1548">1</text><text class="t" x="1143" y="1549">余额支付总额</text></g>
<g id="i5"><path class="u" d="M1114 1590H1253"/><text class="t" x="1125" y="1581">招行一网通支付总额</text></g>
<g id="i6"><path class="u" d="M1114 1622H1245"/><use href="#bd" x="1125" y="1601"/><text class="b" x="1132" y="1612">1</text><text class="t" x="1143" y="1613">本月扫码付金额</text></g>
<g id="i7"><path class="u" d="M1114 1654H1245"/><use href="#bd" x="1125" y="1633"/><text class="b" x="1132" y="1644">1</text><text class="t" x="1143" y="1645">本月支付宝支付</text></g>
<g id="i8"><path class="u" d="M1114 1686H1232"/><use href="#bd" x="1125" y="1665"/><text class="b" x="1132" y="1676">1</text><text class="t" x="1143" y="1677">本月微信支付</text></g>
<g id="i9"><path class="u" d="M1114 1718H1232"/><use href="#bd" x="1125" y="1697"/><text class="b" x="1132" y="1708">1</text><text class="t" x="1143" y="1709">本月余额支付</text></g>
<g id="i10"><path class="u" d="M1114 1750H1227"/><text class="t" x="1125" y="1741">本月招行一网通</text></g>
<g id="i11"><path class="u" d="M1114 1782H1245"/><use href="#bd" x="1125" y="1761"/><text class="b" x="1132" y="1772">1</text><text class="t" x="1143" y="1773">扫码付订单总数</text></g>
<g id="i12"><path class="u" d="M1114 1814H1258"/><use href="#bd" x="1125" y="1793"/><text class="b" x="1132" y="1804">1</text><text class="t" x="1143" y="1805">本月扫码付订单数</text></g>

<g id="note1"><polygon points="1024,1916 1056,1896 1103,1896" fill="#fbeea0" stroke="#efbf4e" stroke-width="1.2"/><rect x="966" y="1832" width="520" height="65" rx="6" fill="#fbeea0" stroke="#efbf4e" stroke-width="2"/><text x="981" y="1860" font-size="16.5" fill="#222">在店铺管理页面，状态的筛选项为 “开业” 和"打烊"；在已冻结页</text><text x="981" y="1884" font-size="16.5" fill="#222">面，不要 “状态” 这一筛选条件</text></g>

<g id="j1"><path class="u" d="M966 1937H1032"/><use href="#cc" x="1041" y="1924"/><use href="#bd" x="977" y="1916"/><text class="b" x="984" y="1927">1</text><text class="t" x="995" y="1928">状态</text></g>
<g id="j1v"><path class="u" d="M1057 1937H1105"/><text class="t" x="1068" y="1928">等于</text></g>
<g id="j2"><path class="u" d="M966 1969H1032"/><use href="#cc" x="1041" y="1956"/><use href="#bd" x="977" y="1948"/><text class="b" x="984" y="1959">1</text><text class="t" x="995" y="1960">渠道</text></g>
<g id="j2v"><path class="u" d="M1057 1969H1300"/><text class="t" x="1068" y="1960">等于、等于其中之一、不等于以下任意</text></g>
<g id="j3"><path class="u" d="M966 2001H1045"/><use href="#cc" x="1054" y="1988"/><use href="#bd" x="977" y="1980"/><text class="b" x="984" y="1991">1</text><text class="t" x="995" y="1992">商户组</text></g>
<g id="j3v"><path class="u" d="M1070 2001H1534"/><text class="t" x="1081" y="1992">在以下任意群组中、在以下所有群组中、不在以下任意群组中、为空、不为空</text></g>

<g id="k1"><path class="u" d="M948 2048H1079"/><use href="#bd" x="959" y="2027"/><text class="b" x="966" y="2038">1</text><text class="t r" x="977" y="2039">自提单总订单数</text></g>
<g id="k2"><path class="u" d="M948 2080H1092"/><use href="#bd" x="959" y="2059"/><text class="b" x="966" y="2070">1</text><text class="t r" x="977" y="2071">本月自提单订单数</text></g>
<g id="k3"><path class="u" d="M948 2112H1066"/><use href="#bd" x="959" y="2091"/><text class="b" x="966" y="2102">1</text><text class="t r" x="977" y="2103">自提单总人数</text></g>
<g id="k4"><path class="u" d="M948 2144H1079"/><use href="#bd" x="959" y="2123"/><text class="b" x="966" y="2134">1</text><text class="t r" x="977" y="2135">本月自提单人数</text></g>
<g id="k5"><path class="u" d="M948 2176H1066"/><use href="#bd" x="959" y="2155"/><text class="b" x="966" y="2166">1</text><text class="t r" x="977" y="2167">自提单总金额</text></g>
<g id="k6"><path class="u" d="M948 2208H1079"/><use href="#bd" x="959" y="2187"/><text class="b" x="966" y="2198">1</text><text class="t r" x="977" y="2199">本月自提单金额</text></g>

<!-- Section 3: 商品筛选 -->
<g id="root3"><ellipse class="el" cx="909" cy="2529" rx="48" ry="24"/><text class="et" x="909" y="2535">商品筛选</text></g>
<g id="s3a"><path class="u" d="M772 2472H848"/><use href="#cc" x="764" y="2459"/><text class="t" x="783" y="2463">销售数据</text></g>
<g id="s3b"><path class="u" d="M772 2615H848"/><use href="#cc" x="764" y="2602"/><text class="t" x="783" y="2606">分销数据</text></g>
<g id="s3c"><path class="u" d="M960 2448H1035"/><use href="#cc" x="1043" y="2435"/><text class="t" x="971" y="2439">基本属性</text></g>
<g id="s3d"><path class="u" d="M960 2639H1035"/><use href="#cc" x="1043" y="2626"/><text class="t" x="971" y="2630">商品属性</text></g>

<g id="l1"><path class="u" d="M670 2392H749"/><use href="#cc" x="661" y="2379"/><use href="#bd" x="681" y="2371"/><text class="b" x="688" y="2382">1</text><text class="t e" x="738" y="2383">总销量</text></g>
<g id="l1v"><path class="u" d="M298 2392H645"/><text class="t e" x="634" y="2383">等于、不等于、小于、小于等于、大于、大于等于、区间</text></g>
<g id="l2"><path class="u" d="M657 2424H749"/><use href="#cc" x="648" y="2411"/><use href="#bd" x="668" y="2403"/><text class="b" x="675" y="2414">1</text><text class="t e" x="738" y="2415">订货总量</text></g>
<g id="l2v"><path class="u" d="M285 2424H632"/><text class="t e" x="621" y="2415">等于、不等于、小于、小于等于、大于、大于等于、区间</text></g>
<g id="l3"><path class="u" d="M657 2456H749"/><use href="#cc" x="648" y="2443"/><use href="#bd" x="668" y="2435"/><text class="b" x="675" y="2446">1</text><text class="t e" x="738" y="2447">预定总量</text></g>
<g id="l3v"><path class="u" d="M285 2456H632"/><text class="t e" x="621" y="2447">等于、不等于、小于、小于等于、大于、大于等于、区间</text></g>
<g id="l4"><path class="u" d="M657 2488H749"/><use href="#cc" x="648" y="2475"/><use href="#bd" x="668" y="2467"/><text class="b" x="675" y="2478">1</text><text class="t e" x="738" y="2479">本月销量</text></g>
<g id="l4v"><path class="u" d="M285 2488H632"/><text class="t e" x="621" y="2479">等于、不等于、小于、小于等于、大于、大于等于、区间</text></g>
<g id="l5"><path class="u" d="M644 2520H749"/><use href="#cc" x="635" y="2507"/><use href="#bd" x="655" y="2499"/><text class="b" x="662" y="2510">1</text><text class="t e" x="738" y="2511">本月订货量</text></g>
<g id="l5v"><path class="u" d="M272 2520H619"/><text class="t e" x="608" y="2511">等于、不等于、小于、小于等于、大于、大于等于、区间</text></g>
<g id="l6"><path class="u" d="M644 2552H749"/><use href="#cc" x="635" y="2539"/><use href="#bd" x="655" y="2531"/><text class="b" x="662" y="2542">1</text><text class="t e" x="738" y="2543">本月预定量</text></g>
<g id="l6v"><path class="u" d="M272 2552H619"/><text class="t e" x="608" y="2543">等于、不等于、小于、小于等于、大于、大于等于、区间</text></g>
<g id="m1"><path class="u" d="M662 2599H749"/><use href="#cc" x="653" y="2586"/><text class="t e" x="738" y="2590">被分享总数</text></g>
<g id="m1v"><path class="u" d="M290 2599H637"/><text class="t e" x="626" y="2590">等于、不等于、小于、小于等于、大于、大于等于、区间</text></g>
<g id="m2"><path class="u" d="M662 2631H749"/><use href="#cc" x="653" y="2618"/><text class="t e" x="738" y="2622">本月分享数</text></g>
<g id="m2v"><path class="u" d="M290 2631H637"/><text class="t e" x="626" y="2622">等于、不等于、小于、小于等于、大于、大于等于、区间</text></g>

<g id="n1"><path class="u" d="M1059 2368H1151"/><use href="#cc" x="1160" y="2355"/><use href="#bd" x="1070" y="2347"/><text class="b" x="1077" y="2358">1</text><text class="t" x="1088" y="2359">商品名称</text></g>
<g id="n1v"><path class="u" d="M1176 2368H1224"/><text class="t" x="1187" y="2359">等于</text></g>
<g id="n2"><path class="u" d="M1059 2400H1151"/><use href="#cc" x="1160" y="2387"/><use href="#bd" x="1070" y="2379"/><text class="b" x="1077" y="2390">1</text><text class="t" x="1088" y="2391">商品条码</text></g>
<g id="n2v"><path class="u" d="M1176 2400H1224"/><text class="t" x="1187" y="2391">等于</text></g>
<g id="n3"><path class="u" d="M1059 2432H1110"/><use href="#cc" x="1119" y="2419"/><text class="t" x="1070" y="2423">PV值</text></g>
<g id="n3v"><path class="u" d="M1135 2432H1482"/><text class="t" x="1146" y="2423">等于、不等于、小于、小于等于、大于、大于等于、区间</text></g>
<g id="n4"><path class="u" d="M1059 2464H1138"/><use href="#cc" x="1147" y="2451"/><use href="#bd" x="1070" y="2443"/><text class="b" x="1077" y="2454">1</text><text class="t" x="1088" y="2455">零售价</text></g>
<g id="n4v"><path class="u" d="M1163 2464H1510"/><text class="t" x="1174" y="2455">等于、不等于、小于、小于等于、大于、大于等于、区间</text></g>
<g id="n5"><path class="u" d="M1059 2496H1138"/><use href="#cc" x="1147" y="2483"/><use href="#bd" x="1070" y="2475"/><text class="b" x="1077" y="2486">1</text><text class="t" x="1088" y="2487">市场价</text></g>
<g id="n5v"><path class="u" d="M1163 2496H1510"/><text class="t" x="1174" y="2487">等于、不等于、小于、小于等于、大于、大于等于、区间</text></g>
<g id="n6"><path class="u" d="M1059 2528H1138"/><use href="#cc" x="1147" y="2515"/><use href="#bd" x="1070" y="2507"/><text class="b" x="1077" y="2518">1</text><text class="t" x="1088" y="2519">成本价</text></g>
<g id="n6v"><path class="u" d="M1163 2528H1510"/><text class="t" x="1174" y="2519">等于、不等于、小于、小于等于、大于、大于等于、区间</text></g>
<g id="o1"><path class="u" d="M1059 2575H1151"/><use href="#cc" x="1160" y="2562"/><use href="#bd" x="1070" y="2554"/><text class="b" x="1077" y="2565">1</text><text class="t" x="1088" y="2566">配送批次</text></g>
<g id="o1v"><path class="u" d="M1176 2575H1419"/><text class="t" x="1187" y="2566">等于、等于其中之一、不等于以下任意</text></g>
<g id="o2"><path class="u" d="M1059 2607H1151"/><use href="#cc" x="1160" y="2594"/><use href="#bd" x="1070" y="2586"/><text class="b" x="1077" y="2597">1</text><text class="t" x="1088" y="2598">保存方式</text></g>
<g id="o2v"><path class="u" d="M1176 2607H1419"/><text class="t" x="1187" y="2598">等于、等于其中之一、不等于以下任意</text></g>
<g id="o3"><path class="u" d="M1059 2639H1125"/><use href="#cc" x="1134" y="2626"/><use href="#bd" x="1070" y="2618"/><text class="b" x="1077" y="2629">1</text><text class="t" x="1088" y="2630">属性</text></g>
<g id="o3v"><path class="u" d="M1150 2639H1198"/><text class="t" x="1161" y="2630">等于</text></g>
<g id="o4"><path class="u" d="M1059 2671H1151"/><use href="#cc" x="1160" y="2658"/><use href="#bd" x="1070" y="2650"/><text class="b" x="1077" y="2661">1</text><text class="t" x="1088" y="2662">商品分类</text></g>
<g id="o4v"><path class="u" d="M1176 2671H1588"/><text class="t" x="1187" y="2662">等于、在以下任意分类中、在以下所有分类中、不在以下任意分类中</text></g>
<g id="o5"><path class="u" d="M1059 2703H1138"/><use href="#cc" x="1147" y="2690"/><use href="#bd" x="1070" y="2682"/><text class="b" x="1077" y="2693">1</text><text class="t" x="1088" y="2694">商品组</text></g>
<g id="o5v"><path class="u" d="M1163 2703H1588"/><text class="t" x="1174" y="2694">在以下任意组中、在以下所有组中、不在以下任意组中、为空、不为空</text></g>

<!-- Section 4 -->
<g id="root4"><ellipse class="el" cx="798" cy="2898" rx="228" ry="35"/><text class="et" x="798" y="2904" font-size="16.5">早餐订货、商户订货、活动、小程序商城（分销商城）</text></g>
<g id="stock"><path class="u" d="M1047 2881H1094"/><text class="t" x="1058" y="2872">库存</text></g>

<!-- Section 5: 消费者订单筛选 -->
<g id="root5"><ellipse class="el" cx="778" cy="3214" rx="75" ry="25"/><text class="et" x="778" y="3220">消费者订单筛选</text></g>
<g id="s5a"><path class="u" d="M613 3149H688"/><use href="#cc" x="605" y="3136"/><text class="t" x="624" y="3140">金额属性</text></g>
<g id="s5b"><path class="u" d="M613 3308H688"/><use href="#cc" x="605" y="3295"/><text class="t" x="624" y="3299">分销属性</text></g>
<g id="s5c"><path class="u" d="M854 3117H928"/><use href="#cc" x="937" y="3104"/><text class="t" x="865" y="3108">基本属性</text></g>
<g id="s5d"><path class="u" d="M854 3340H928"/><use href="#cc" x="937" y="3327"/><text class="t" x="865" y="3331">订单属性</text></g>

<g id="p1"><path class="u" d="M511 3069H590"/><use href="#cc" x="502" y="3056"/><use href="#bd" x="522" y="3048"/><text class="b" x="529" y="3059">1</text><text class="t e" x="579" y="3060">实付款</text></g>
<g id="p1v"><path class="u" d="M139 3069H486"/><text class="t e" x="475" y="3060">等于、不等于、小于、小于等于、大于、大于等于、区间</text></g>
<g id="p2"><path class="u" d="M511 3101H590"/><use href="#cc" x="502" y="3088"/><use href="#bd" x="522" y="3080"/><text class="b" x="529" y="3091">1</text><text class="t e" x="579" y="3092">应收款</text></g>
<g id="p2v"><path class="u" d="M139 3101H486"/><text class="t e" x="475" y="3092">等于、不等于、小于、小于等于、大于、大于等于、区间</text></g>
<g id="p3"><path class="u" d="M498 3133H590"/><use href="#cc" x="489" y="3120"/><use href="#bd" x="509" y="3112"/><text class="b" x="516" y="3123">1</text><text class="t e" x="579" y="3124">优惠金额</text></g>
<g id="p3v"><path class="u" d="M126 3133H473"/><text class="t e" x="462" y="3124">等于、不等于、小于、小于等于、大于、大于等于、区间</text></g>
<g id="p4"><path class="u" d="M498 3165H590"/><use href="#cc" x="489" y="3152"/><use href="#bd" x="509" y="3144"/><text class="b" x="516" y="3155">1</text><text class="t e" x="579" y="3156">退款金额</text></g>
<g id="p4v"><path class="u" d="M126 3165H473"/><text class="t e" x="462" y="3156">等于、不等于、小于、小于等于、大于、大于等于、区间</text></g>
<g id="p5"><path class="u" d="M498 3197H590"/><use href="#cc" x="489" y="3184"/><use href="#bd" x="509" y="3176"/><text class="b" x="516" y="3187">1</text><text class="t e" x="579" y="3188">退款类型</text></g>
<g id="p5v"><path class="u" d="M230 3197H473"/><text class="t e" x="462" y="3188">等于、等于其中之一、不等于以下任意</text></g>
<g id="p6"><path class="u" d="M498 3229H590"/><use href="#cc" x="489" y="3216"/><use href="#bd" x="509" y="3208"/><text class="b" x="516" y="3219">1</text><text class="t e" x="579" y="3220">付款方式</text></g>
<g id="p6v"><path class="u" d="M230 3229H473"/><text class="t e" x="462" y="3220">等于、等于其中之一、不等于以下任意</text></g>
<g id="q1"><path class="u" d="M490 3276H590"/><text class="t e" x="579" y="3267">有无销售分佣</text></g>
<g id="q2"><path class="u" d="M516 3308H590"/><text class="t e" x="579" y="3299">上线编号</text></g>
<g id="q3"><path class="u" d="M516 3340H590"/><text class="t e" x="579" y="3331">上线名称</text></g>

<g id="r1"><path class="u" d="M953 3069H1032"/><use href="#cc" x="1041" y="3056"/><use href="#bd" x="964" y="3048"/><text class="b" x="971" y="3059">1</text><text class="t" x="982" y="3060">订单号</text></g>
<g id="r1v"><path class="u" d="M1057 3069H1105"/><text class="t" x="1068" y="3060">等于</text></g>
<g id="r2"><path class="u" d="M953 3101H1045"/><use href="#cc" x="1054" y="3088"/><use href="#bd" x="964" y="3080"/><text class="b" x="971" y="3091">1</text><text class="t" x="982" y="3092">用户昵称</text></g>
<g id="r2v"><path class="u" d="M1070 3101H1209"/><text class="t" x="1081" y="3092">等于、为空、不为空</text></g>
<g id="r3"><path class="u" d="M953 3133H1058"/><use href="#cc" x="1067" y="3120"/><use href="#bd" x="964" y="3112"/><text class="b" x="971" y="3123">1</text><text class="t" x="982" y="3124">用户手机号</text></g>
<g id="r3v"><path class="u" d="M1083 3133H1222"/><text class="t" x="1094" y="3124">等于、为空、不为空</text></g>
<g id="r4"><path class="u" d="M953 3165H1045"/><use href="#cc" x="1054" y="3152"/><use href="#bd" x="964" y="3144"/><text class="b" x="971" y="3155">1</text><text class="t" x="982" y="3156">支付流水</text></g>
<g id="r4v"><path class="u" d="M1070 3165H1118"/><text class="t" x="1081" y="3156">等于</text></g>
<g id="s1"><path class="u" d="M953 3212H1045"/><use href="#cc" x="1054" y="3199"/><use href="#bd" x="964" y="3191"/><text class="b" x="971" y="3202">1</text><text class="t" x="982" y="3203">订单状态</text></g>
<g id="s1v"><path class="u" d="M1070 3212H1313"/><text class="t" x="1081" y="3203">等于、等于其中之一、不等于以下任意</text></g>
<g id="s2"><path class="u" d="M953 3244H1045"/><use href="#cc" x="1054" y="3231"/><use href="#bd" x="964" y="3223"/><text class="b" x="971" y="3234">1</text><text class="t" x="982" y="3235">订单类型</text></g>
<g id="s2v"><path class="u" d="M1070 3244H1313"/><text class="t" x="1081" y="3235">等于、等于其中之一、不等于以下任意</text></g>
<g id="s3"><path class="u" d="M953 3276H1045"/><use href="#cc" x="1054" y="3263"/><use href="#bd" x="964" y="3255"/><text class="b" x="971" y="3266">1</text><text class="t" x="982" y="3267">下单时间</text></g>
<g id="s3v"><path class="u" d="M1070 3276H1443"/><text class="t" x="1081" y="3267">等于、不等于、晚于、晚于（含）、早于、早于（含）、区间</text></g>
<g id="s4"><path class="u" d="M953 3308H1019"/><use href="#cc" x="1028" y="3295"/><use href="#bd" x="964" y="3287"/><text class="b" x="971" y="3298">1</text><text class="t" x="982" y="3299">商品</text></g>
<g id="s4v"><path class="u" d="M1044 3308H1378"/><text class="t" x="1055" y="3299">等于、等于其中之一、等于其中所有、不等于以下任意</text></g>
<g id="s5"><path class="u" d="M953 3340H1136"/><use href="#cc" x="1145" y="3327"/><use href="#bd" x="964" y="3319"/><text class="b" x="971" y="3330">1</text><text class="t" x="982" y="3331">销售商户（线下扫码付）</text></g>
<g id="s5v"><path class="u" d="M1161 3340H1404"/><text class="t" x="1172" y="3331">等于、等于其中之一、不等于以下任意</text></g>
<g id="s6"><path class="u" d="M953 3372H1110"/><use href="#cc" x="1119" y="3359"/><use href="#bd" x="964" y="3351"/><text class="b" x="971" y="3362">1</text><text class="t" x="982" y="3363">自提商户（预定单）</text></g>
<g id="s6v"><path class="u" d="M1135 3372H1378"/><text class="t" x="1146" y="3363">等于、等于其中之一、不等于以下任意</text></g>
<g id="s7"><path class="u" d="M953 3404H1071"/><use href="#cc" x="1080" y="3391"/><use href="#bd" x="964" y="3383"/><text class="b" x="971" y="3394">1</text><text class="t" x="982" y="3395">自提商户分类</text></g>
<g id="s7v"><path class="u" d="M1096 3404H1339"/><text class="t" x="1107" y="3395">等于、等于其中之一、不等于以下任意</text></g>
<g id="s8"><path class="u" d="M953 3436H1040"/><text class="t" x="964" y="3427">自提商户组</text></g>
<g id="s9"><path class="u" d="M953 3468H1053"/><text class="t" x="964" y="3459">是否拼团订单</text></g>

<!-- Section 6: 商户订货筛选 -->
<g id="root6"><ellipse class="el" cx="808" cy="3703" rx="66" ry="26"/><text class="et" x="808" y="3709">商户订货筛选</text></g>
<g id="s6a"><path class="u" d="M643 3686H717"/><use href="#cc" x="634" y="3673"/><text class="t" x="654" y="3677">金额属性</text></g>
<g id="s6b"><path class="u" d="M877 3615H952"/><use href="#cc" x="960" y="3602"/><text class="t" x="888" y="3606">基本属性</text></g>
<g id="s6c"><path class="u" d="M877 3822H952"/><use href="#cc" x="960" y="3809"/><text class="t" x="888" y="3813">订单属性</text></g>

<g id="t1"><path class="u" d="M540 3606H619"/><use href="#cc" x="531" y="3593"/><use href="#bd" x="551" y="3585"/><text class="b" x="558" y="3596">1</text><text class="t e" x="608" y="3597">实付款</text></g>
<g id="t1v"><path class="u" d="M168 3606H515"/><text class="t e" x="504" y="3597">等于、不等于、小于、小于等于、大于、大于等于、区间</text></g>
<g id="t2"><path class="u" d="M540 3638H619"/><use href="#cc" x="531" y="3625"/><use href="#bd" x="551" y="3617"/><text class="b" x="558" y="3628">1</text><text class="t e" x="608" y="3629">应收款</text></g>
<g id="t2v"><path class="u" d="M168 3638H515"/><text class="t e" x="504" y="3629">等于、不等于、小于、小于等于、大于、大于等于、区间</text></g>
<g id="t3"><path class="u" d="M527 3670H619"/><use href="#cc" x="518" y="3657"/><use href="#bd" x="538" y="3649"/><text class="b" x="545" y="3660">1</text><text class="t e" x="608" y="3661">优惠金额</text></g>
<g id="t3v"><path class="u" d="M155 3670H502"/><text class="t e" x="491" y="3661">等于、不等于、小于、小于等于、大于、大于等于、区间</text></g>
<g id="t4"><path class="u" d="M527 3702H619"/><use href="#cc" x="518" y="3689"/><use href="#bd" x="538" y="3681"/><text class="b" x="545" y="3692">1</text><text class="t e" x="608" y="3693">付款方式</text></g>
<g id="t4v"><path class="u" d="M155 3702H502"/><text class="t e" x="491" y="3693">等于、不等于、小于、小于等于、大于、大于等于、区间</text></g>
<g id="t5"><path class="u" d="M501 3734H619"/><use href="#cc" x="492" y="3721"/><use href="#bd" x="512" y="3713"/><text class="b" x="519" y="3724">1</text><text class="t e" x="608" y="3725">参与分销的金额</text></g>
<g id="t5v"><path class="u" d="M129 3734H476"/><text class="t e" x="465" y="3725">等于、不等于、小于、小于等于、大于、大于等于、区间</text></g>
<g id="t6"><path class="u" d="M488 3766H619"/><use href="#cc" x="479" y="3753"/><use href="#bd" x="499" y="3745"/><text class="b" x="506" y="3756">1</text><text class="t e" x="608" y="3757">不参与分销的金额</text></g>
<g id="t6v"><path class="u" d="M116 3766H463"/><text class="t e" x="452" y="3757">等于、不等于、小于、小于等于、大于、大于等于、区间</text></g>

<g id="w1"><path class="u" d="M975 3535H1054"/><use href="#cc" x="1063" y="3522"/><use href="#bd" x="986" y="3514"/><text class="b" x="993" y="3525">1</text><text class="t" x="1004" y="3526">订单号</text></g>
<g id="w1v"><path class="u" d="M1079 3535H1127"/><text class="t" x="1090" y="3526">等于</text></g>
<g id="w2"><path class="u" d="M975 3567H1067"/><use href="#cc" x="1076" y="3554"/><use href="#bd" x="986" y="3546"/><text class="b" x="993" y="3557">1</text><text class="t" x="1004" y="3558">店铺名称</text></g>
<g id="w2v"><path class="u" d="M1092 3567H1140"/><text class="t" x="1103" y="3558">等于</text></g>
<g id="w3"><path class="u" d="M975 3599H1067"/><use href="#cc" x="1076" y="3586"/><use href="#bd" x="986" y="3578"/><text class="b" x="993" y="3589">1</text><text class="t" x="1004" y="3590">店主姓名</text></g>
<g id="w3v"><path class="u" d="M1092 3599H1140"/><text class="t" x="1103" y="3590">等于</text></g>
<g id="w4"><path class="u" d="M975 3631H1093"/><use href="#cc" x="1102" y="3618"/><use href="#bd" x="986" y="3610"/><text class="b" x="993" y="3621">1</text><text class="t" x="1004" y="3622">店主手机号码</text></g>
<g id="w4v"><path class="u" d="M1118 3631H1166"/><text class="t" x="1129" y="3622">等于</text></g>
<g id="w5"><path class="u" d="M975 3663H1067"/><use href="#cc" x="1076" y="3650"/><use href="#bd" x="986" y="3642"/><text class="b" x="993" y="3653">1</text><text class="t" x="1004" y="3654">店铺编号</text></g>
<g id="w5v"><path class="u" d="M1092 3663H1140"/><text class="t" x="1103" y="3654">等于</text></g>
<g id="w6"><path class="u" d="M975 3695H1067"/><use href="#cc" x="1076" y="3682"/><use href="#bd" x="986" y="3674"/><text class="b" x="993" y="3685">1</text><text class="t" x="1004" y="3686">支付流水</text></g>
<g id="w6v"><path class="u" d="M1092 3695H1140"/><text class="t" x="1103" y="3686">等于</text></g>
<g id="x1"><path class="u" d="M975 3742H1067"/><use href="#cc" x="1076" y="3729"/><use href="#bd" x="986" y="3721"/><text class="b" x="993" y="3732">1</text><text class="t" x="1004" y="3733">订单状态</text></g>
<g id="x1v"><path class="u" d="M1092 3742H1335"/><text class="t" x="1103" y="3733">等于、等于其中之一、不等于以下任意</text></g>
<g id="x2"><path class="u" d="M975 3774H1067"/><use href="#cc" x="1076" y="3761"/><use href="#bd" x="986" y="3753"/><text class="b" x="993" y="3764">1</text><text class="t" x="1004" y="3765">订货批次</text></g>
<g id="x2v"><path class="u" d="M1092 3774H1335"/><text class="t" x="1103" y="3765">等于、等于其中之一、不等于以下任意</text></g>
<g id="x3"><path class="u" d="M975 3806H1067"/><use href="#cc" x="1076" y="3793"/><use href="#bd" x="986" y="3785"/><text class="b" x="993" y="3796">1</text><text class="t" x="1004" y="3797">下单时间</text></g>
<g id="x3v"><path class="u" d="M1092 3806H1465"/><text class="t" x="1103" y="3797">等于、不等于、晚于、晚于（含）、早于、早于（含）、区间</text></g>
<g id="x4"><path class="u" d="M975 3838H1041"/><use href="#cc" x="1050" y="3825"/><use href="#bd" x="986" y="3817"/><text class="b" x="993" y="3828">1</text><text class="t" x="1004" y="3829">商品</text></g>
<g id="x4v"><path class="u" d="M1066 3838H1400"/><text class="t" x="1077" y="3829">等于、等于其中之一、等于其中所有、不等于以下任意</text></g>
<g id="x5"><path class="u" d="M975 3870H1067"/><use href="#cc" x="1076" y="3857"/><use href="#bd" x="986" y="3849"/><text class="b" x="993" y="3860">1</text><text class="t" x="1004" y="3861">缺少商品</text></g>
<g id="x5v"><path class="u" d="M1092 3870H1452"/><text class="t" x="1103" y="3861">等于、等于其中之一、等于其中所有、不等于以下任意、无</text></g>
<g id="x6"><path class="u" d="M975 3902H1067"/><use href="#cc" x="1076" y="3889"/><use href="#bd" x="986" y="3881"/><text class="b" x="993" y="3892">1</text><text class="t" x="1004" y="3893">破损商品</text></g>
<g id="x6v"><path class="u" d="M1092 3902H1452"/><text class="t" x="1103" y="3893">等于、等于其中之一、等于其中所有、不等于以下任意、无</text></g>

<!-- Section 7: 退款售后筛选 -->
<g id="root7"><ellipse class="el" cx="785" cy="4081" rx="66" ry="27"/><text class="et" x="785" y="4087">退款售后筛选</text></g>
<g id="s7a"><path class="u" d="M624 4064H698"/><use href="#cc" x="614" y="4051"/><text class="t" x="635" y="4055">退款属性</text></g>
<g id="s7b"><path class="u" d="M854 4025H928"/><use href="#cc" x="936" y="4012"/><text class="t" x="865" y="4016">基本属性</text></g>
<g id="s7c"><path class="u" d="M854 4168H928"/><use href="#cc" x="936" y="4155"/><text class="t" x="865" y="4159">订单属性</text></g>

<g id="y1"><path class="u" d="M508 3968H600"/><use href="#cc" x="499" y="3955"/><use href="#bd" x="519" y="3947"/><text class="b" x="526" y="3958">1</text><text class="t e" x="589" y="3959">退款状态</text></g>
<g id="y1v"><path class="u" d="M240 3968H483"/><text class="t e" x="472" y="3959">等于、等于其中之一、不等于以下任意</text></g>
<g id="y2"><path class="u" d="M508 4000H600"/><use href="#cc" x="499" y="3987"/><use href="#bd" x="519" y="3979"/><text class="b" x="526" y="3990">1</text><text class="t e" x="589" y="3991">退款类型</text></g>
<g id="y2v"><path class="u" d="M240 4000H483"/><text class="t e" x="472" y="3991">等于、等于其中之一、不等于以下任意</text></g>
<g id="y3"><path class="u" d="M508 4032H600"/><use href="#cc" x="499" y="4019"/><use href="#bd" x="519" y="4011"/><text class="b" x="526" y="4022">1</text><text class="t e" x="589" y="4023">申请时间</text></g>
<g id="y3v"><path class="u" d="M110 4032H483"/><text class="t e" x="472" y="4023">等于、不等于、晚于、晚于（含）、早于、早于（含）、区间</text></g>
<g id="y4"><path class="u" d="M508 4064H600"/><use href="#cc" x="499" y="4051"/><use href="#bd" x="519" y="4043"/><text class="b" x="526" y="4054">1</text><text class="t e" x="589" y="4055">到账时间</text></g>
<g id="y4v"><path class="u" d="M19 4064H483"/><text class="t e" x="472" y="4055">等于、不等于、晚于、晚于（含）、早于、早于（含）、区间、为空、不为空</text></g>
<g id="y5"><path class="u" d="M521 4096H600"/><use href="#cc" x="512" y="4083"/><use href="#bd" x="532" y="4075"/><text class="b" x="539" y="4086">1</text><text class="t e" x="589" y="4087">实付款</text></g>
<g id="y5v"><path class="u" d="M149 4096H496"/><text class="t e" x="485" y="4087">等于、不等于、小于、小于等于、大于、大于等于、区间</text></g>
<g id="y6"><path class="u" d="M521 4128H600"/><use href="#cc" x="512" y="4115"/><use href="#bd" x="532" y="4107"/><text class="b" x="539" y="4118">1</text><text class="t e" x="589" y="4119">应收款</text></g>
<g id="y6v"><path class="u" d="M149 4128H496"/><text class="t e" x="485" y="4119">等于、不等于、小于、小于等于、大于、大于等于、区间</text></g>
<g id="y7"><path class="u" d="M508 4160H600"/><use href="#cc" x="499" y="4147"/><use href="#bd" x="519" y="4139"/><text class="b" x="526" y="4150">1</text><text class="t e" x="589" y="4151">退款金额</text></g>
<g id="y7v"><path class="u" d="M136 4160H483"/><text class="t e" x="472" y="4151">等于、不等于、小于、小于等于、大于、大于等于、区间</text></g>

<g id="z1"><path class="u" d="M950 3977H1042"/><use href="#cc" x="1051" y="3964"/><use href="#bd" x="961" y="3956"/><text class="b" x="968" y="3967">1</text><text class="t" x="979" y="3968">用户昵称</text></g>
<g id="z1v"><path class="u" d="M1067 3977H1206"/><text class="t" x="1078" y="3968">等于、为空、不为空</text></g>
<g id="z2"><path class="u" d="M950 4009H1042"/><use href="#cc" x="1051" y="3996"/><use href="#bd" x="961" y="3988"/><text class="b" x="968" y="3999">1</text><text class="t" x="979" y="4000">手机号码</text></g>
<g id="z2v"><path class="u" d="M1067 4009H1206"/><text class="t" x="1078" y="4000">等于、为空、不为空</text></g>
<g id="z3"><path class="u" d="M950 4041H1042"/><use href="#cc" x="1051" y="4028"/><use href="#bd" x="961" y="4020"/><text class="b" x="968" y="4031">1</text><text class="t" x="979" y="4032">订单编号</text></g>
<g id="z3v"><path class="u" d="M1067 4041H1115"/><text class="t" x="1078" y="4032">等于</text></g>
<g id="z4"><path class="u" d="M950 4073H1042"/><use href="#cc" x="1051" y="4060"/><use href="#bd" x="961" y="4052"/><text class="b" x="968" y="4063">1</text><text class="t" x="979" y="4064">退款编号</text></g>
<g id="z4v"><path class="u" d="M1067 4073H1206"/><text class="t" x="1078" y="4064">等于、为空、不为空</text></g>
<g id="zz1"><path class="u" d="M950 4120H1042"/><use href="#cc" x="1051" y="4107"/><use href="#bd" x="961" y="4099"/><text class="b" x="968" y="4110">1</text><text class="t r" x="979" y="4111">自提商户</text></g>
<g id="zz1v"><path class="u" d="M1067 4120H1310"/><text class="t" x="1078" y="4111">等于、等于其中之一、不等于以下任意</text></g>
<g id="zz2"><path class="u" d="M950 4152H1024"/><use href="#cc" x="1033" y="4139"/><text class="t" x="961" y="4143">商户分类</text></g>
<g id="zz2v"><path class="u" d="M1049 4152H1292"/><text class="t" x="1060" y="4143">等于、等于其中之一、不等于以下任意</text></g>
<g id="zz3"><path class="u" d="M950 4184H1016"/><use href="#cc" x="1025" y="4171"/><use href="#bd" x="961" y="4163"/><text class="b" x="968" y="4174">1</text><text class="t" x="979" y="4175">商品</text></g>
<g id="zz3v"><path class="u" d="M1041 4184H1375"/><text class="t" x="1052" y="4175">等于、等于其中之一、等于其中所有、不等于以下任意</text></g>
<g id="zz4"><path class="u" d="M950 4216H1042"/><use href="#cc" x="1051" y="4203"/><use href="#bd" x="961" y="4195"/><text class="b" x="968" y="4206">1</text><text class="t" x="979" y="4207">下单时间</text></g>
<g id="zz4v"><path class="u" d="M1067 4216H1440"/><text class="t" x="1078" y="4207">等于、不等于、晚于、晚于（含）、早于、早于（含）、区间</text></g>

<!-- Section 8: 优惠券筛选 -->
<g id="root8"><ellipse class="el" cx="783" cy="4467" rx="56" ry="25"/><text class="et" x="783" y="4473">优惠券筛选</text></g>
<g id="s8a"><path class="u" d="M842 4420H916"/><use href="#cc" x="925" y="4407"/><text class="t" x="853" y="4411">基本属性</text></g>
<g id="s8b"><path class="u" d="M841 4546H916"/><text class="t" x="852" y="4537">未完待续</text></g>
<g id="cp1"><path class="u" d="M940 4339H1027"/><text class="t" x="951" y="4330">优惠券名称</text></g>
<g id="cp2"><path class="u" d="M940 4371H1014"/><text class="t" x="951" y="4362">领取方式</text></g>
<g id="cp3"><path class="u" d="M940 4403H988"/><text class="t" x="951" y="4394">面值</text></g>
<g id="cp4"><path class="u" d="M940 4435H1027"/><text class="t" x="951" y="4426">是否无门槛</text></g>
<g id="cp5"><path class="u" d="M940 4467H1040"/><text class="t" x="951" y="4458">满多少元可用</text></g>
<g id="cp6"><path class="u" d="M940 4499H1027"/><text class="t" x="951" y="4490">优惠券类别</text></g>

<!-- Section 9: 自提返佣筛选 -->
<g id="root9"><ellipse class="el" cx="811" cy="4723" rx="66" ry="26"/><text class="et er" x="811" y="4729">自提返佣筛选</text></g>
<g id="s9a"><path class="u" d="M694 4682H744"/><use href="#cc" x="686" y="4669"/><text class="t" x="705" y="4673">店铺</text></g>
<g id="s9b"><path class="u" d="M682 4794H744"/><use href="#cc" x="674" y="4781"/><text class="t" x="693" y="4785">消费者</text></g>
<g id="s9c"><path class="u" d="M889 4690H963"/><use href="#cc" x="971" y="4677"/><text class="t" x="900" y="4681">基本属性</text></g>
<g id="s9d"><path class="u" d="M889 4785H963"/><use href="#cc" x="971" y="4772"/><text class="t" x="900" y="4776">订单属性</text></g>
<g id="ss1"><path class="u" d="M579 4634H671"/><use href="#bd" x="590" y="4613"/><text class="b" x="597" y="4624">1</text><text class="t e" x="660" y="4625">店铺名称</text></g>
<g id="ss2"><path class="u" d="M579 4666H671"/><use href="#bd" x="590" y="4645"/><text class="b" x="597" y="4656">1</text><text class="t e" x="660" y="4657">店铺编号</text></g>
<g id="ss3"><path class="u" d="M579 4698H671"/><use href="#bd" x="590" y="4677"/><text class="b" x="597" y="4688">1</text><text class="t e" x="660" y="4689">店主姓名</text></g>
<g id="ss4"><path class="u" d="M566 4730H671"/><use href="#bd" x="577" y="4709"/><text class="b" x="584" y="4720">1</text><text class="t e" x="660" y="4721">店主手机号</text></g>
<g id="ss5"><path class="u" d="M554 4778H659"/><use href="#bd" x="565" y="4757"/><text class="b" x="572" y="4768">1</text><text class="t e" x="648" y="4769">消费者昵称</text></g>
<g id="ss6"><path class="u" d="M541 4810H659"/><use href="#bd" x="552" y="4789"/><text class="b" x="559" y="4800">1</text><text class="t e" x="648" y="4801">消费者手机号</text></g>
<g id="ss7"><path class="u" d="M986 4658H1078"/><use href="#bd" x="997" y="4637"/><text class="b" x="1004" y="4648">1</text><text class="t" x="1015" y="4649">返佣时间</text></g>
<g id="ss8"><path class="u" d="M986 4690H1065"/><use href="#bd" x="997" y="4669"/><text class="b" x="1004" y="4680">1</text><text class="t" x="1015" y="4681">实付款</text></g>
<g id="ss9"><path class="u" d="M986 4722H1078"/><use href="#bd" x="997" y="4701"/><text class="b" x="1004" y="4712">1</text><text class="t" x="1015" y="4713">返佣金额</text></g>
<g id="ss10"><path class="u" d="M986 4769H1065"/><use href="#bd" x="997" y="4748"/><text class="b" x="1004" y="4759">1</text><text class="t" x="1015" y="4760">订单号</text></g>
<g id="ss11"><path class="u" d="M986 4801H1052"/><use href="#bd" x="997" y="4780"/><text class="b" x="1004" y="4791">1</text><text class="t" x="1015" y="4792">商品</text></g>

<!-- Section 10: 销售返佣筛选 -->
<g id="root10"><ellipse class="el" cx="772" cy="5076" rx="66" ry="26"/><text class="et er" x="772" y="5082">销售返佣筛选</text></g>
<g id="s10a"><path class="u" d="M597 5052H688"/><use href="#cc" x="588" y="5039"/><text class="t r" x="608" y="5043">BV净营业额</text></g>
<g id="s10b"><path class="u" d="M597 5130H688"/><use href="#cc" x="588" y="5117"/><text class="t r" x="608" y="5121">PV销售指数</text></g>
<g id="s10c"><path class="u" d="M841 5026H890"/><use href="#cc" x="898" y="5013"/><text class="t" x="852" y="5017">店铺</text></g>
<g id="s10d"><path class="u" d="M841 5153H916"/><use href="#cc" x="924" y="5140"/><text class="t r" x="852" y="5144">返佣数据</text></g>
<g id="sv1"><path class="u" d="M468 5036H573"/><use href="#bd" x="479" y="5015"/><text class="b" x="486" y="5026">1</text><text class="t e r" x="562" y="5027">当月销售额</text></g>
<g id="sv2"><path class="u" d="M439 5068H573"/><use href="#bd" x="450" y="5047"/><text class="b" x="457" y="5058">1</text><text class="t e r" x="562" y="5059">当月BV净营业额</text></g>
<g id="sv3"><path class="u" d="M465 5114H573"/><use href="#bd" x="476" y="5093"/><text class="b" x="483" y="5104">1</text><text class="t e r" x="562" y="5105">当月个人PV</text></g>
<g id="sv4"><path class="u" d="M465 5146H573"/><use href="#bd" x="476" y="5125"/><text class="b" x="483" y="5136">1</text><text class="t e r" x="562" y="5137">当月团队PV</text></g>
<g id="sv5"><path class="u" d="M913 4978H1005"/><use href="#bd" x="924" y="4957"/><text class="b" x="931" y="4968">1</text><text class="t" x="942" y="4969">店铺名称</text></g>
<g id="sv6"><path class="u" d="M913 5010H1005"/><use href="#bd" x="924" y="4989"/><text class="b" x="931" y="5000">1</text><text class="t" x="942" y="5001">店铺编号</text></g>
<g id="sv7"><path class="u" d="M913 5042H1005"/><use href="#bd" x="924" y="5021"/><text class="b" x="931" y="5032">1</text><text class="t" x="942" y="5033">店主手机</text></g>
<g id="sv8"><path class="u" d="M913 5074H1005"/><use href="#bd" x="924" y="5053"/><text class="b" x="931" y="5064">1</text><text class="t" x="942" y="5065">店主姓名</text></g>
<g id="sv9"><path class="u" d="M940 5121H1032"/><use href="#bd" x="951" y="5100"/><text class="b" x="958" y="5111">1</text><text class="t r" x="969" y="5112">返佣金额</text></g>
<g id="sv10"><path class="u" d="M940 5153H1032"/><use href="#bd" x="951" y="5132"/><text class="b" x="958" y="5143">1</text><text class="t r" x="969" y="5144">返佣时间</text></g>
<g id="sv11"><path class="u" d="M940 5185H1056"/><use href="#bd" x="951" y="5164"/><text class="b" x="958" y="5175">1</text><text class="t r" x="969" y="5176">返佣比例</text><path d="M1034 5163H1042L1046 5167V5179H1034Z" fill="#fdeaa6" stroke="#e9b44a" stroke-width="1"/><path d="M1036.5 5169H1043.5M1036.5 5172H1043.5M1036.5 5175H1043.5" stroke="#e9b44a" stroke-width="0.8"/></g>
</svg>
